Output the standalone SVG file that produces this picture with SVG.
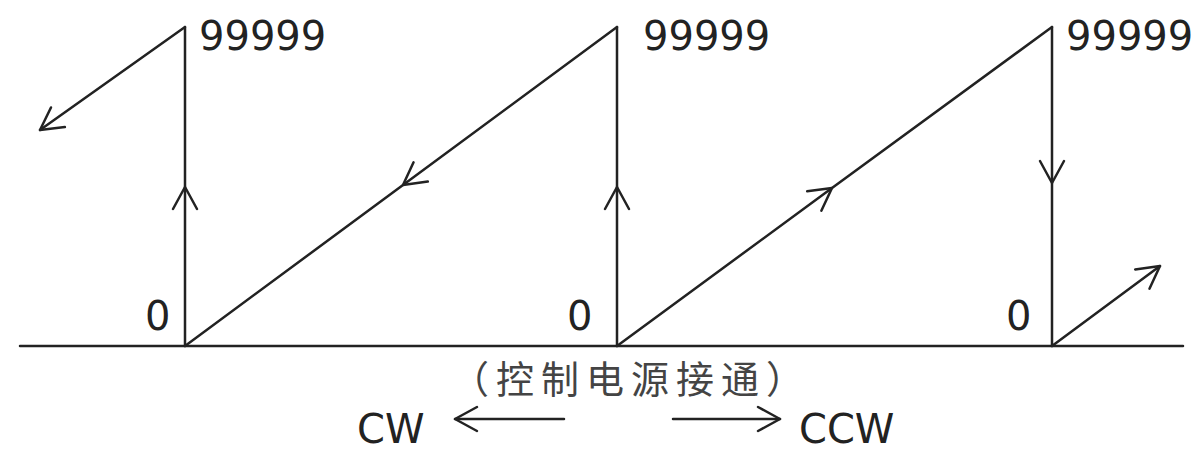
<svg xmlns="http://www.w3.org/2000/svg" width="1199" height="458" viewBox="0 0 1199 458">
  <style>
    .ln { fill: none; stroke: #222; stroke-width: 2.5; stroke-linecap: round; stroke-linejoin: round; }
    .lbl { font-family: "DejaVu Sans", "Noto Sans", sans-serif; font-size: 40px; fill: #222; }
    .cn { font-family: "Noto Sans CJK SC", "DejaVu Sans", sans-serif; font-size: 38px; fill: #444; letter-spacing: 7px; }
  </style>
  <defs>
    <marker id="chev" markerUnits="userSpaceOnUse" viewBox="-26 -15 30 30" refX="0" refY="0" markerWidth="30" markerHeight="30" orient="auto" overflow="visible">
      <path d="M-22,-12 L0,0 L-22,12" fill="none" stroke="#222" stroke-width="2.5" stroke-linecap="round" stroke-linejoin="round"/>
    </marker>
  </defs>
  <rect width="1199" height="458" fill="#fff"/>
  <g id="connectors">
    <line class="ln" x1="20" y1="346" x2="1183" y2="346"/>
    <line class="ln" x1="185" y1="27" x2="40" y2="130" marker-end="url(#chev)"/>
    <polyline class="ln" points="185,346 185,187 185,27" marker-mid="url(#chev)"/>
    <polyline class="ln" points="617,27 403,185 185,346" marker-mid="url(#chev)"/>
    <polyline class="ln" points="617,346 617,187 617,27" marker-mid="url(#chev)"/>
    <polyline class="ln" points="617,346 832,188 1052,27" marker-mid="url(#chev)"/>
    <polyline class="ln" points="1052,27 1052,183 1052,346" marker-mid="url(#chev)"/>
    <line class="ln" x1="1052" y1="346" x2="1160" y2="266" marker-end="url(#chev)"/>
    <line class="ln" x1="564" y1="419" x2="455" y2="419" marker-end="url(#chev)"/>
    <line class="ln" x1="673" y1="419" x2="780" y2="419" marker-end="url(#chev)"/>
  </g>
  <g id="label-max-1"><text class="lbl" x="199" y="50">99999</text></g>
  <g id="label-max-2"><text class="lbl" x="643" y="50">99999</text></g>
  <g id="label-max-3"><text class="lbl" x="1066" y="50">99999</text></g>
  <g id="label-zero-1"><text class="lbl" x="145" y="330">0</text></g>
  <g id="label-zero-2"><text class="lbl" x="567" y="330">0</text></g>
  <g id="label-zero-3"><text class="lbl" x="1006" y="330">0</text></g>
  <g id="label-power"><text class="cn" x="631" y="393" text-anchor="middle">（控制电源接通）</text></g>
  <g id="label-cw"><text class="lbl" x="357" y="443">CW</text></g>
  <g id="label-ccw"><text class="lbl" x="799" y="443">CCW</text></g>
</svg>
